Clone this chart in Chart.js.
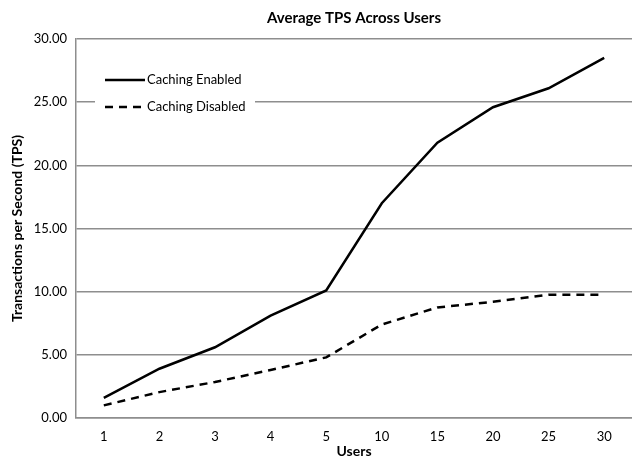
<!DOCTYPE html>
<html>
<head>
<meta charset="utf-8">
<script src="https://cdn.jsdelivr.net/npm/chart.js@4/dist/chart.umd.min.js"></script>
<style>
html,body{margin:0;padding:0;background:#fff;}
#wrap{width:632px;height:457px;position:relative;}
</style>
</head>
<body>
<div id="wrap"><canvas id="c" width="632" height="457"></canvas></div>
<script>
const users = ['1','2','3','4','5','10','15','20','25','30'];
const cachingEnabled = [1.6, 3.9, 5.6, 8.1, 10.1, 17.0, 21.8, 24.6, 26.1, 28.5];
const cachingDisabled = [1.0, 2.05, 2.85, 3.8, 4.8, 7.4, 8.75, 9.2, 9.75, 9.75];
const seriesNames = ['Caching Enabled', 'Caching Disabled'];
const yTicks = [0, 5, 10, 15, 20, 25, 30];

const FONT = 'Lato, "Open Sans", sans-serif';
const GRID = '#8e8e8e';

const legendPlugin = {
  id: 'insideLegend',
  afterDatasetsDraw(chart) {
    const ctx = chart.ctx;
    const ca = chart.chartArea;
    const lx = ca.left + 29;
    const ly = ca.top + 41;
    ctx.save();
    ctx.fillStyle = '#fff';
    ctx.fillRect(ca.left + 19, ly - 18, 160, 58);
    chart.data.datasets.forEach((ds, i) => {
      const y = ly + i * 27;
      ctx.beginPath();
      ctx.setLineDash(ds.borderDash || []);
      ctx.lineWidth = ds.borderWidth;
      ctx.strokeStyle = ds.borderColor;
      ctx.moveTo(lx, y);
      ctx.lineTo(lx + 40, y);
      ctx.stroke();
      ctx.setLineDash([]);
      ctx.fillStyle = '#000';
      ctx.font = '13px ' + FONT;
      ctx.textBaseline = 'middle';
      ctx.fillText(ds.label, lx + 42, y);
    });
    ctx.restore();
  }
};

new Chart(document.getElementById('c'), {
  type: 'line',
  data: {
    labels: users,
    datasets: [
      { label: seriesNames[0], data: cachingEnabled, borderColor: '#000', borderWidth: 2.5, pointRadius: 0, tension: 0, fill: false },
      { label: seriesNames[1], data: cachingDisabled, borderColor: '#000', borderWidth: 2.5, borderDash: [8, 6], pointRadius: 0, tension: 0, fill: false }
    ]
  },
  options: {
    responsive: false,
    animation: false,
    layout: { padding: { left: 0, right: 0, top: 0, bottom: 0 } },
    plugins: {
      legend: { display: false },
      tooltip: { enabled: false },
      title: {
        display: true,
        text: 'Average TPS Across Users',
        color: '#000',
        font: { family: FONT, size: 15, weight: 'bold' },
        padding: { top: 9, bottom: 12 },
        fullSize: false
      }
    },
    scales: {
      x: {
        offset: true,
        grid: { display: false, drawTicks: false },
        border: { display: true, color: GRID, width: 1.5 },
        ticks: { color: '#000', font: { family: FONT, size: 13 }, padding: 11, maxRotation: 0 },
        title: { display: true, text: 'Users', color: '#000', font: { family: FONT, size: 14, weight: 'bold' }, padding: { top: -4, bottom: -2.5 } },
        afterFit(s) { s.height = 39; }
      },
      y: {
        min: 0, max: 30,
        afterBuildTicks(s) { s.ticks = yTicks.map(v => ({ value: v })); },
        grid: { color: GRID, lineWidth: 1.5, drawTicks: false },
        border: { display: true, color: GRID, width: 1.5 },
        ticks: { color: '#000', font: { family: FONT, size: 13 }, padding: 9, callback: v => Number(v).toFixed(2) },
        title: { display: true, text: 'Transactions per Second (TPS)', color: '#000', font: { family: FONT, size: 14, weight: 'bold' }, padding: { top: 9, bottom: 0 } },
        afterFit(s) { s.width = 76; }
      }
    }
  },
  plugins: [legendPlugin]
});
</script>
</body>
</html>
